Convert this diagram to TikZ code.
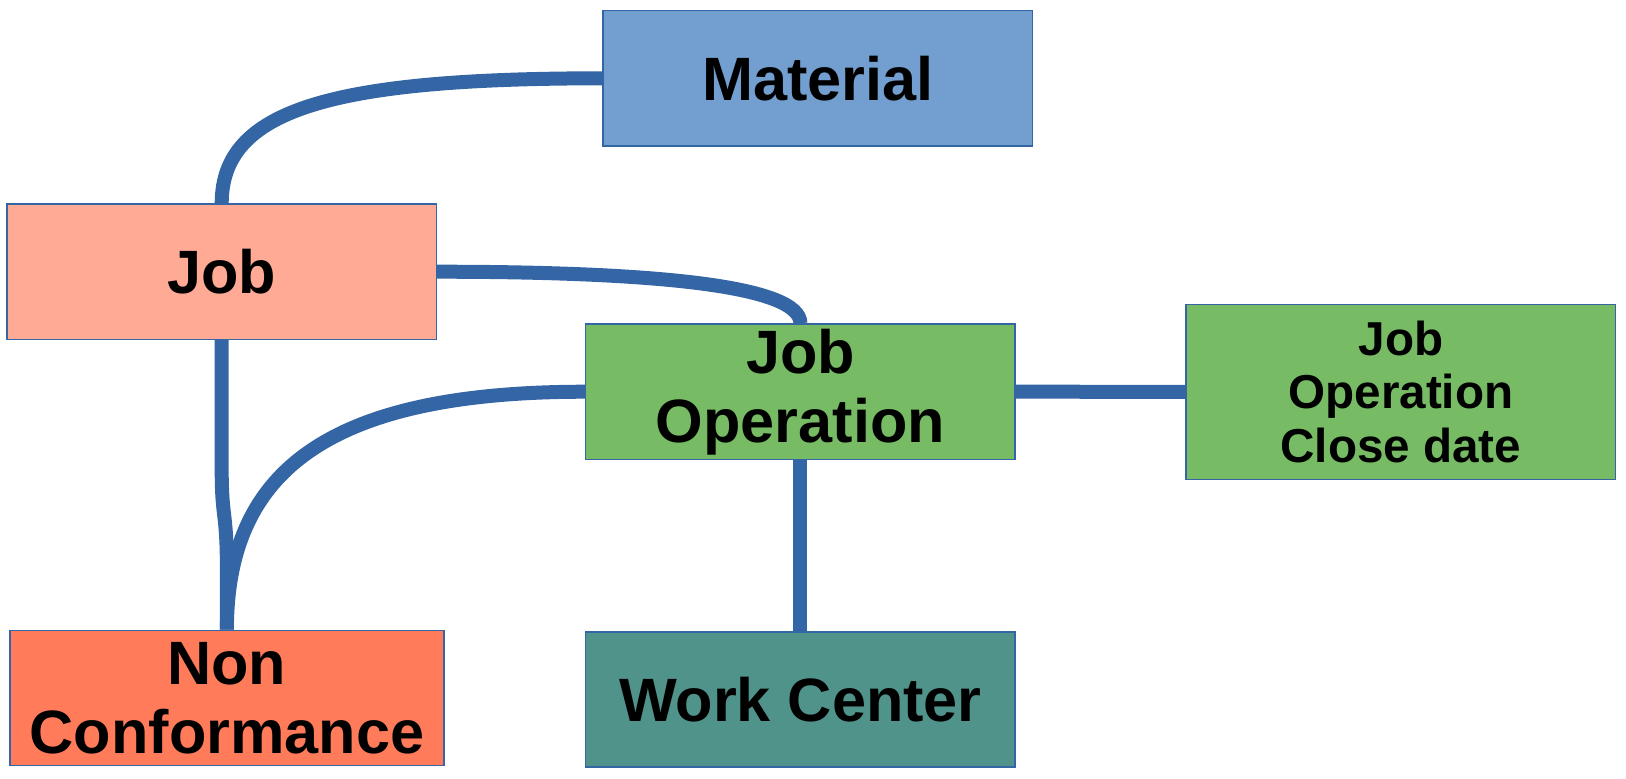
\documentclass[tikz,border=0pt]{standalone}
\usepackage{fontspec}
\setmainfont{Liberation Sans}
\usetikzlibrary{backgrounds}
\definecolor{conn}{HTML}{3465A4}
\definecolor{matblue}{HTML}{729FCF}
\definecolor{jobsalmon}{HTML}{FFAA95}
\definecolor{opgreen}{HTML}{77BC65}
\definecolor{ncorange}{HTML}{FF7B59}
\definecolor{wcteal}{HTML}{50938A}
\begin{document}
\begin{tikzpicture}[x=0.5pt,y=-0.5pt,
  box/.style={draw=conn, line width=0.7pt, rectangle, inner sep=0pt,
    minimum width=214.75pt, minimum height=67.65pt, align=center,
    font=\fontsize{30.6}{34.5}\selectfont\bfseries},
  smallbox/.style={box, minimum height=87.5pt,
    font=\fontsize{23.8}{26.75}\selectfont\bfseries},
  link/.style={draw=conn, line width=7pt}]
\useasboundingbox (0,0) rectangle (1626,778);
\node[box, fill=matblue] (mat) at (817.8,78.3) {Material};
\node[box, fill=jobsalmon] (job) at (221.7,271.7) {Job};
\node[box, fill=opgreen] (jobop) at (800.4,391.7) {Job\\Operation};
\node[smallbox, fill=opgreen] (close) at (1400.9,391.8) {Job\\Operation\\Close date};
\node[box, fill=ncorange, minimum width=217pt] (nc) at (226.9,697.9) {Non\\Conformance};
\node[box, fill=wcteal] (wc) at (800.4,699.5) {Work Center};
\begin{pgfonlayer}{background}
\draw[link] (job.north) .. controls (221.7,110) and (330,78.3) .. (mat.west);
\draw[link] (job.east) .. controls (650,271.7) and (800.4,285) .. (jobop.north);
\draw[link] (job.south) -- (221.7,470) .. controls (221.7,520) and (226.9,510) .. (226.9,570) -- (nc.north);
\draw[link] (jobop.west) .. controls (330,391.7) and (226.9,470) .. (nc.north);
\draw[link] (jobop.east) -- (close.west);
\draw[link] (jobop.south) -- (wc.north);
\end{pgfonlayer}
\end{tikzpicture}
\end{document}
